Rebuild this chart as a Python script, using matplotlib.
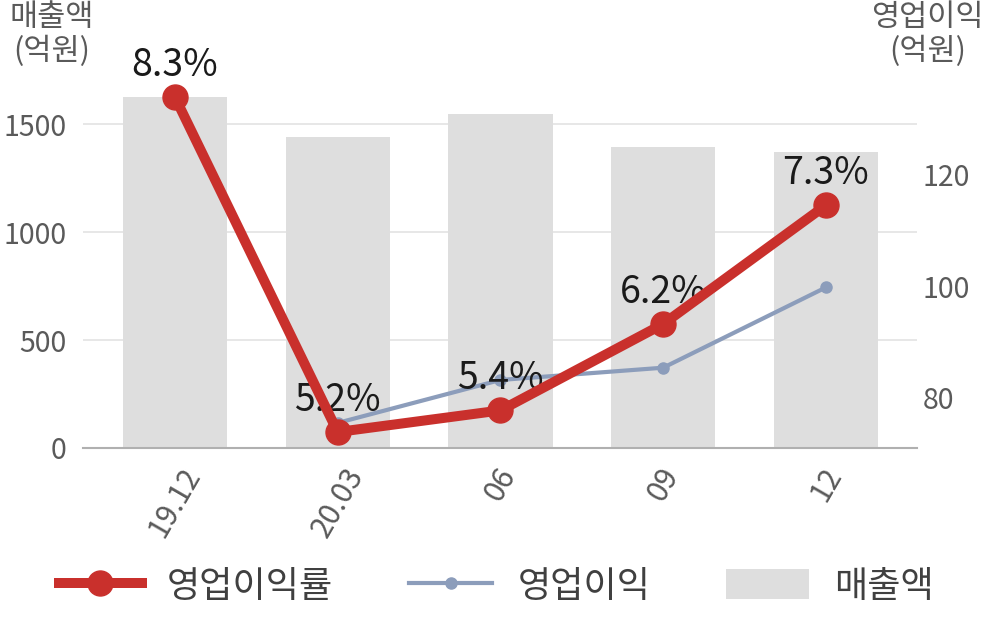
import numpy as np
import matplotlib
matplotlib.use('Agg')
import matplotlib.pyplot as plt
from matplotlib.patches import Patch
from matplotlib.lines import Line2D

plt.rcParams['font.family'] = ['Noto Sans CJK KR', 'DejaVu Sans']

# data
periods = ['19.12', '20.03', '06', '09', '12']
sales = [1625, 1440, 1546, 1394, 1370]          # 매출액 (억원)
op_profit = [np.nan, 75.5, 83.2, 85.4, 99.8]    # 영업이익 (억원), 19.12 not shown
op_margin = [8.3, 5.2, 5.4, 6.2, 7.3]           # 영업이익률 (%)

RED = '#c9302c'
BLUE = '#8c9dbb'
BAR = '#dedede'
GRID = '#e3e3e3'
TXT = '#5a5a5a'

fig = plt.figure(figsize=(10.05, 6.23), dpi=100)
ax = fig.add_axes([0.0826, 0.2809, 0.8299, 0.6758])
x = np.arange(len(periods))

ax.bar(x, sales, width=0.64, color=BAR, zorder=2)
ax.set_xlim(-0.565, 4.56)
ax.set_ylim(0, 1950)
ax.set_yticks([0, 500, 1000, 1500])
ax.grid(axis='y', color=GRID, lw=1.2, zorder=0)
ax.set_axisbelow(True)
ax.tick_params(axis='y', length=0, pad=12, labelsize=20.5, labelcolor=TXT)
ax.set_xticks(x)
ax.set_xticklabels(periods, rotation=60, fontsize=21.5, color=TXT)
ax.tick_params(axis='x', length=0, pad=10)
for s in ['top', 'left', 'right']:
    ax.spines[s].set_visible(False)
ax.spines['bottom'].set_color('#b0b0b0')
ax.spines['bottom'].set_linewidth(1.5)

# right axis: 영업이익
ax2 = ax.twinx()
ax2.plot(x, op_profit, color=BLUE, lw=3, marker='o', ms=8, zorder=3)
ax2.set_ylim(71.0, 146.5)
ax2.set_yticks([80, 100, 120])
ax2.tick_params(axis='y', length=0, pad=4, labelsize=20.5, labelcolor=TXT)
for s in ax2.spines.values():
    s.set_visible(False)

# hidden axis: 영업이익률
ax3 = ax.twinx()
ax3.plot(x, op_margin, color=RED, lw=7.2, marker='o', ms=18, zorder=4)
ax3.set_ylim(5.052, 8.95)
ax3.axis('off')
for xi, v in zip(x, op_margin):
    ax3.annotate(f'{v}%', (xi, v), xytext=(0, 32), textcoords='offset pixels',
                 ha='center', va='center', fontsize=27, color='#1a1a1a', zorder=3)

fig.text(0.051, 0.997, '매출액\n(억원)', ha='center', va='top', fontsize=22,
         color=TXT, linespacing=1.1)
fig.text(0.923, 0.997, '영업이익\n(억원)', ha='center', va='top', fontsize=22,
         color=TXT, linespacing=1.1)

handles = [
    Line2D([], [], color=RED, lw=7.2, marker='o', ms=18),
    Line2D([], [], color=BLUE, lw=3, marker='o', ms=8),
    Patch(facecolor=BAR, edgecolor='none'),
]
fig.legend(handles, ['영업이익률', '영업이익', '매출액'], loc='center',
           bbox_to_anchor=(0.494, 0.058), ncol=3, frameon=False, fontsize=26,
           labelcolor='#404040', handlelength=2.3, handleheight=0.9,
           handletextpad=0.7, columnspacing=2.1, numpoints=1)

fig.savefig('out.png', dpi=100)
